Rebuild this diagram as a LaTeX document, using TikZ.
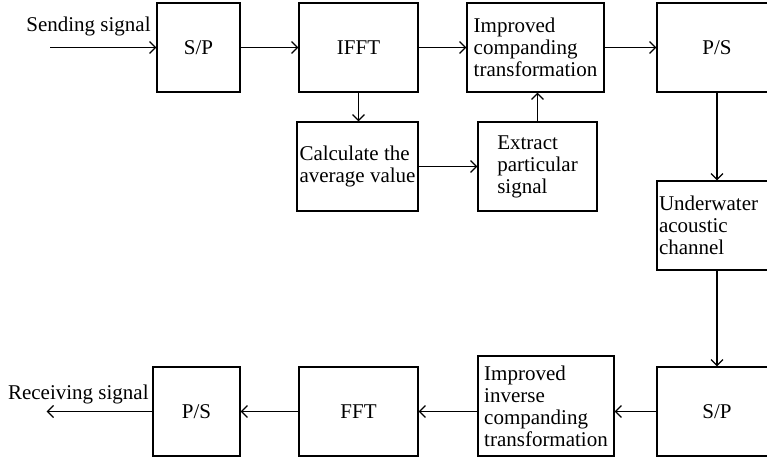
\documentclass[tikz,border=0pt]{standalone}
\usepackage{fontspec}
\setmainfont{Liberation Serif}
\usepackage{tikz}
\usetikzlibrary{positioning,arrows,arrows.meta}

\tikzset{
  blk/.style={draw=black,line width=0.6pt,align=left,inner sep=2pt,minimum height=44.5pt},
  sig/.style={line width=0.6pt,-{Straight Barb[length=3pt,width=6pt]}}
}

\begin{document}
\begin{tikzpicture}[x=0.5pt,y=-0.5pt,font=\fontsize{10.5}{11}\selectfont]
\useasboundingbox (0,0) rectangle (767,460);
\clip (0,0) rectangle (767,460);
% transmitter
\node[blk,minimum width=41.5pt] (sp1) at (198.5,47.5) {S/P};
\node[blk,minimum width=59.5pt] (ifft) at (358.5,47.5) {IFFT};
\node[blk,minimum width=68.5pt] (imp) at (535.5,47.5) {Improved\\companding\\transformation};
\node[blk,minimum width=60pt] (ps1) at (717,47.5) {P/S};
\node[blk,minimum width=60.5pt,inner xsep=0.5pt] (calc) at (357.5,166.5) {Calculate the\\average value};
\node[blk,minimum width=59.5pt] (ext) at (537.5,166.5) {Extract\\particular\\signal};
% channel
\node[blk,text width=58pt,inner xsep=1pt] (uw) at (717,225.5) {Underwater\\acoustic\\channel};
% receiver
\node[blk,minimum width=60pt] (sp2) at (717,411.5) {S/P};
\node[blk,minimum width=68pt,minimum height=50pt] (inv) at (546,406) {Improved\\inverse\\companding\\transformation};
\node[blk,minimum width=59.5pt] (fft) at (358.5,411.5) {FFT};
\node[blk,minimum width=43.5pt] (ps2) at (196.5,411.5) {P/S};

\coordinate (in) at (50,47.5);
\coordinate (out) at (46.7,411.5);
\node[anchor=base east,inner sep=0pt] (sendlbl) at (151,32) {Sending signal};
\node[anchor=base east,inner sep=0pt] (recvlbl) at (149,400) {Receiving signal};

\draw[sig] (in) -- (sp1);
\draw[sig] (sp1) -- (ifft);
\draw[sig] (ifft) -- (imp);
\draw[sig] (imp) -- (ps1);
\draw[sig] (ifft.south) -- (ifft.south |- calc.north);
\draw[sig] (calc) -- (ext);
\draw[sig] (ext.north) -- (ext.north |- imp.south);
\draw[sig] (ps1.south) -- (ps1.south |- uw.north);
\draw[sig] (uw.south) -- (uw.south |- sp2.north);
\draw[sig] (sp2.west) -- (sp2.west -| inv.east);
\draw[sig] (fft.east -| inv.west) -- (fft.east);
\draw[sig] (fft) -- (ps2);
\draw[sig] (ps2) -- (out);
\end{tikzpicture}
\end{document}
